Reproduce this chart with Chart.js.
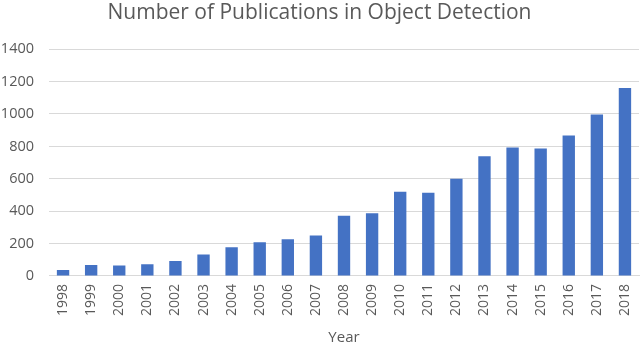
<!DOCTYPE html>
<html>
<head>
<meta charset="utf-8">
<script src="https://cdn.jsdelivr.net/npm/chart.js@4/dist/chart.umd.min.js"></script>
<style>
  html, body { margin: 0; padding: 0; background: #fff; }
  #wrap { width: 640px; height: 344px; }
</style>
</head>
<body>
<div id="wrap"><canvas id="myChart" width="640" height="344"></canvas></div>
<script>
// Dados
var years = ['1998', '1999', '2000', '2001', '2002', '2003', '2004', '2005', '2006', '2007',
             '2008', '2009', '2010', '2011', '2012', '2013', '2014', '2015', '2016', '2017', '2018'];
var publications = [37, 68, 64, 72, 93, 132, 178, 209, 227, 250,
                    372, 388, 520, 514, 601, 739, 793, 787, 867, 997, 1160];
var yTicks = [0, 200, 400, 600, 800, 1000, 1200, 1400];

var cinza = '#595959';
var fonte = "'Open Sans', 'Liberation Sans', sans-serif";

var ctx = document.getElementById('myChart').getContext('2d');
var myChart = new Chart(ctx, {
    type: 'bar',
    data: {
        labels: years,
        datasets: [{
            label: 'Publications',
            data: publications,
            backgroundColor: '#4472C4',
            borderWidth: 0,
            barPercentage: 0.44,
            categoryPercentage: 1
        }]
    },
    options: {
        responsive: false,
        animation: false,
        layout: { padding: { left: 0, right: 1, top: 0, bottom: -3 } },
        plugins: {
            legend: { display: false },
            tooltip: { enabled: false },
            title: {
                display: true,
                text: 'Number of Publications in Object Detection',
                color: cinza,
                font: { family: fonte, size: 21, weight: 'normal' },
                padding: { top: 0, bottom: 24 }
            }
        },
        scales: {
            x: {
                afterFit: function(axis) { axis.paddingRight = 0; axis.paddingLeft = 0; },
                grid: { display: false, drawTicks: false },
                border: { display: true, color: '#d9d9d9', width: 1 },
                ticks: {
                    color: cinza,
                    font: { family: fonte, size: 14 },
                    minRotation: 90,
                    maxRotation: 90,
                    padding: 8,
                    autoSkip: false
                },
                title: {
                    display: true,
                    text: 'Year',
                    color: cinza,
                    font: { family: fonte, size: 15 },
                    padding: { top: 5, bottom: 0 }
                }
            },
            y: {
                min: 0,
                max: 1400,
                afterBuildTicks: function(axis) {
                    axis.ticks = yTicks.map(function(v) { return { value: v }; });
                },
                afterFit: function(axis) { axis.width = 49; },
                grid: { color: '#d9d9d9', drawTicks: false },
                border: { display: false },
                ticks: {
                    color: cinza,
                    font: { family: fonte, size: 14.5 },
                    padding: 15,
                    callback: function(v) { return String(v); }
                }
            }
        }
    }
});
</script>
</body>
</html>
